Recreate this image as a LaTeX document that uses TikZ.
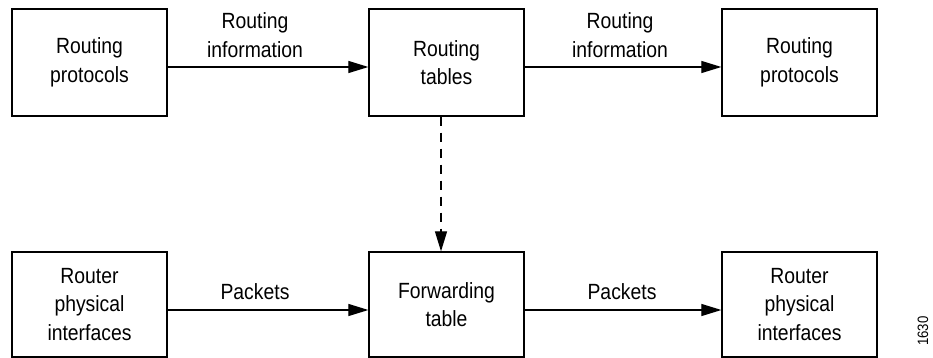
\documentclass[tikz,border=0pt]{standalone}
\usepackage{fontspec}
\setmainfont{Liberation Sans}[FakeStretch=0.88]
\usetikzlibrary{arrows.meta}
\begin{document}
\begin{tikzpicture}[x=1pt,y=-1pt,
  box/.style={draw,line width=1.3pt,minimum width=155pt,minimum height=107pt,inner sep=0pt,align=center,
    font=\fontsize{22pt}{28.5pt}\selectfont},
  lbl/.style={align=center,inner sep=0pt,font=\fontsize{22pt}{28.5pt}\selectfont},
  arr/.style={line width=1.2pt,-{Triangle[length=20pt,width=12pt]}}]
\useasboundingbox (0,0) rectangle (933,358);
\node[box] (rp1) at (89.5,62.5) {Routing\\protocols};
\node[box] (rt) at (446.5,62.5) {Routing\\tables};
\node[box] (rp2) at (799.5,62.5) {Routing\\protocols};
\node[box,minimum height=105pt] (ri1) at (89.5,304.5) {Router\\physical\\interfaces};
\node[box,minimum height=105pt] (ft) at (446.5,304.5) {Forwarding\\table};
\node[box,minimum height=105pt] (ri2) at (799.5,304.5) {Router\\physical\\interfaces};
\draw[arr] ([yshift=-4.5pt]rp1.east) -- ([yshift=-4.5pt]rt.west);
\draw[arr] ([yshift=-4.5pt]rt.east) -- ([yshift=-4.5pt]rp2.west);
\draw[arr] ([yshift=-5.5pt]ri1.east) -- ([yshift=-5.5pt]ft.west);
\draw[arr] ([yshift=-5.5pt]ft.east) -- ([yshift=-5.5pt]ri2.west);
\draw[arr,dash pattern=on 9pt off 7pt] ([xshift=-5.5pt]rt.south) -- ([xshift=-5.5pt]ft.north);
\node[lbl] (l1) at (255,35) {Routing\\information};
\node[lbl] (l2) at (620,35) {Routing\\information};
\node[lbl] (l3) at (255,292) {Packets};
\node[lbl] (l4) at (622,292) {Packets};
\node[rotate=90,inner sep=0pt,font=\fontsize{15pt}{17pt}\selectfont] (id) at (923,331) {1630};
\end{tikzpicture}
\end{document}
